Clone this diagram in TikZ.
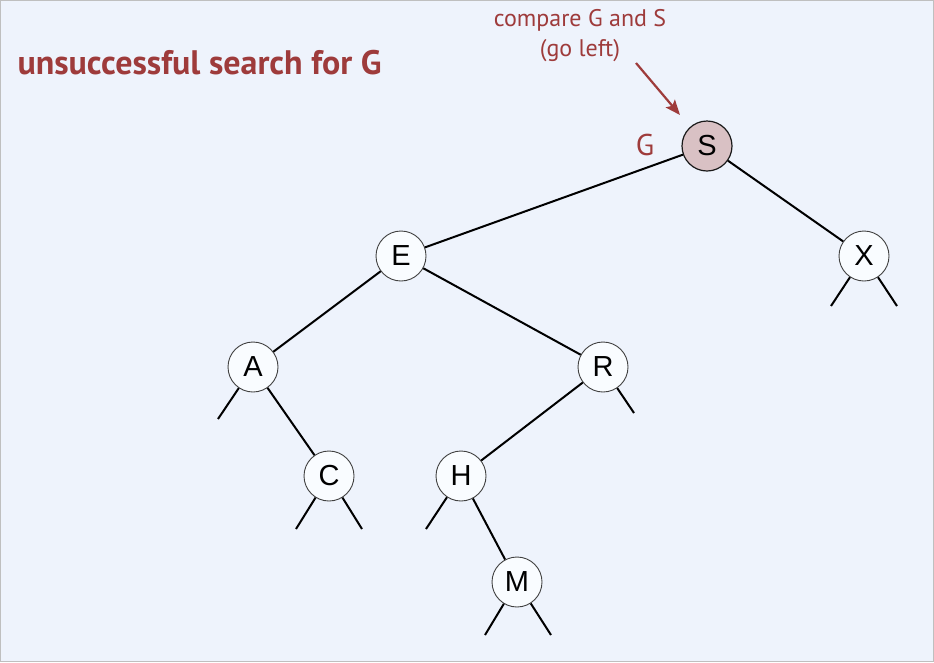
\documentclass[tikz,border=0pt]{standalone}
\usepackage{fontspec}
\setmainfont{PT Sans}
\newfontfamily\nodefont{Liberation Sans}
\usetikzlibrary{arrows.meta}
\definecolor{bgblue}{HTML}{EEF3FC}
\definecolor{note}{HTML}{9E3B3B}
\definecolor{hit}{HTML}{D9C1C4}
\definecolor{nodefill}{HTML}{F9FCFF}
\tikzset{
  treenode/.style={circle, draw=black!75, line width=0.9pt, fill=nodefill,
    minimum size=50pt, inner sep=0pt, font=\nodefont\fontsize{29}{31}\selectfont},
  current/.style={treenode, fill=hit, draw=black!90, line width=1.2pt},
  link/.style={line width=2pt, black},
  stub/.style={line width=2pt, black},
  notetext/.style={text=note, font=\fontsize{24}{30}\selectfont, align=center},
}
\begin{document}
\begin{tikzpicture}[x=1pt, y=-1pt]
  \fill[bgblue] (0,0) rectangle (934,662);
  \draw[black!25, line width=0.8pt] (0.5,0.5) rectangle (933.5,661.5);
  \useasboundingbox (0,0) rectangle (934,662);

  % tree keys
  \node[current]  (S) at (707,146) {S};
  \node[treenode] (E) at (401,256) {E};
  \node[treenode] (X) at (864,256) {X};
  \node[treenode] (A) at (253,367) {A};
  \node[treenode] (R) at (603,367) {R};
  \node[treenode] (C) at (329,476) {C};
  \node[treenode] (H) at (461,476) {H};
  \node[treenode] (M) at (517,582) {M};

  % null-link ends
  \coordinate (Al) at (218,419);
  \coordinate (Cl) at (296,529);
  \coordinate (Cr) at (362,529);
  \coordinate (Hl) at (426,529);
  \coordinate (Ml) at (485,635);
  \coordinate (Mr) at (551,635);
  \coordinate (Rr) at (634,413);
  \coordinate (Xl) at (831,306);
  \coordinate (Xr) at (897,306);

  % links between keys
  \draw[link] (S) -- (E);
  \draw[link] (S) -- (X);
  \draw[link] (E) -- (A);
  \draw[link] (E) -- (R);
  \draw[link] (A) -- (C);
  \draw[link] (R) -- (H);
  \draw[link] (H) -- (M);

  % null links
  \draw[stub] (A) -- (Al);
  \draw[stub] (C) -- (Cl);
  \draw[stub] (C) -- (Cr);
  \draw[stub] (H) -- (Hl);
  \draw[stub] (M) -- (Ml);
  \draw[stub] (M) -- (Mr);
  \draw[stub] (R) -- (Rr);
  \draw[stub] (X) -- (Xl);
  \draw[stub] (X) -- (Xr);

  % labels
  \node[anchor=base west, text=note, font=\bfseries\fontsize{34}{38}\selectfont]
    (title) at (14,74) {unsuccessful search for G};
  \node[text=note, font=\fontsize{30}{32}\selectfont] (key) at (645,145) {G};
  \node[notetext] (cmp) at (580,36) {compare G and S\\(go left)};
  \coordinate (tail) at (636,63);
  \coordinate (tip) at (680,115);
  \draw[note, line width=2.2pt, -{Stealth[length=15pt, width=12pt, inset=3pt]}] (tail) -- (tip);
\end{tikzpicture}
\end{document}
